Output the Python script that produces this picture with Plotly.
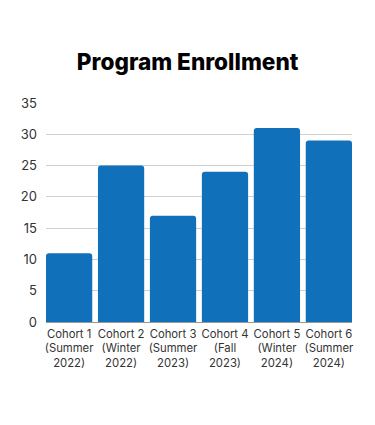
import plotly.graph_objects as go

categories = ["Cohort 1<br>(Summer<br>2022)", "Cohort 2<br>(Winter<br>2022)", "Cohort 3<br>(Summer<br>2023)",
              "Cohort 4<br>(Fall<br>2023)", "Cohort 5<br>(Winter<br>2024)", "Cohort 6<br>(Summer<br>2024)"]
enrollment = [11, 25, 17, 24, 31, 29]
y_ticks = [0, 5, 10, 15, 20, 25, 30, 35]

gap = 0.11
fig = go.Figure(go.Bar(
    x=categories, y=enrollment,
    marker=dict(color="#1170BA", line=dict(width=0)),
))
fig.update_layout(
    width=375, height=425,
    paper_bgcolor="white", plot_bgcolor="white",
    margin=dict(l=38, r=31, t=95, b=111),
    title=dict(text="Program Enrollment", x=0.479, xanchor="center", y=0.873, yanchor="middle",
               font=dict(family="Inter, sans-serif", size=22.6, color="#000000", weight=800)),
    bargap=gap,
    barcornerradius=3,
    showlegend=False,
    font=dict(family="Inter, sans-serif", size=11, color="#333333"),
)
fig.update_yaxes(range=[0, 35], tickvals=y_ticks, showgrid=True, gridcolor="#D0D0D0", gridwidth=1,
                 zeroline=False, showline=False, ticks="", ticklabelstandoff=8,
                 tickfont=dict(size=13, color="#333333"))
fig.update_xaxes(range=[-0.5 + gap / 2, len(categories) - 0.5 - gap / 2],
                 showline=True, linecolor="#999999", linewidth=1, ticks="", tickangle=0,
                 ticklabelstandoff=1,
                 tickfont=dict(size=11.3, color="#333333"))
fig.write_html("out.html")
